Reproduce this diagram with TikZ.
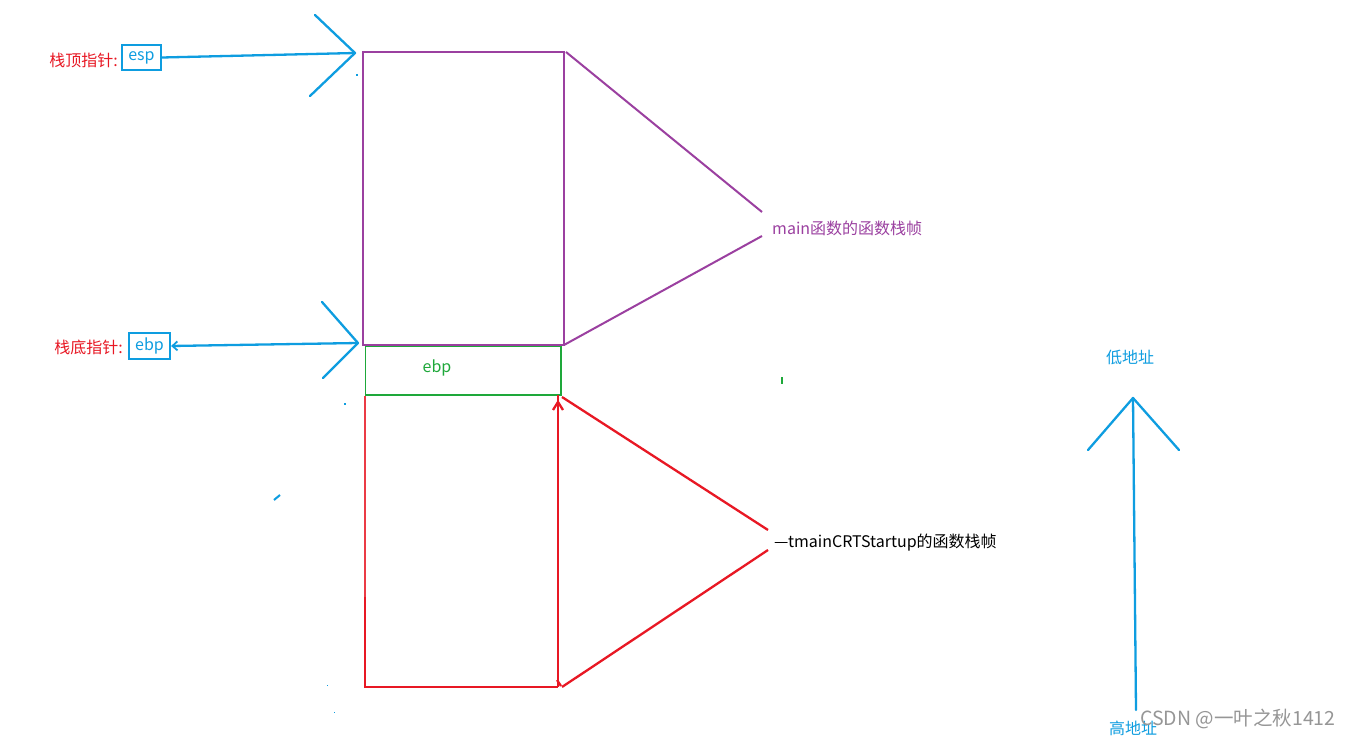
\documentclass[tikz,border=0pt]{standalone}
\usepackage{fontspec}
\setmainfont{Noto Sans CJK SC}
\usetikzlibrary{arrows.meta}
\definecolor{cblue}{RGB}{14,157,224}
\definecolor{cred}{RGB}{232,24,36}
\definecolor{cpurple}{RGB}{155,64,160}
\definecolor{cgreen}{RGB}{30,168,58}
\definecolor{cgray}{RGB}{150,150,150}
\tikzset{
  lbl/.style={inner sep=0pt, font=\fontsize{16}{19}\selectfont},
  bluebox/.style={draw=cblue, line width=2.2pt, inner sep=0pt, text=cblue, font=\fontsize{16}{19}\selectfont},
  blueline/.style={draw=cblue, line width=2.3pt, line cap=round, line join=round},
  purpleline/.style={draw=cpurple, line width=2pt},
  redline/.style={draw=cred, line width=2.3pt},
  greenline/.style={draw=cgreen, line width=2pt},
  speck/.style={draw=cblue, line width=2pt}
}
\begin{document}
\begin{tikzpicture}[x=1pt,y=-1pt]
\useasboundingbox[fill=white] (0,0) rectangle (1351,738);

% --- main frame (purple)
\coordinate (pTL) at (363,52);
\coordinate (pTR) at (564,52);
\coordinate (pBL) at (363,345);
\coordinate (pBR) at (564,345);
\draw[purpleline] (pTL) rectangle (pBR);
\node[lbl, text=cpurple, anchor=west] (mainlbl) at (772,228) {main函数的函数栈帧};
\coordinate (mA) at (762,212);
\coordinate (mB) at (762,236);
\draw[purpleline] (566,52) -- (mA);
\draw[purpleline] (pBR) -- (mB);

% --- ebp slot (green)
\draw[cgreen, line width=1pt] (365,395) -- (365,346) -- (561,346);
\draw[greenline] (561,346) -- (561,395) -- (365,395);
\node[lbl, text=cgreen] (ebpslot) at (437,368) {ebp};

% --- tmainCRTStartup frame (red)
\coordinate (rTL) at (365,396);
\coordinate (rBL) at (365,687);
\coordinate (rBR) at (558,687);
\coordinate (rTR) at (558,395);
\draw[cred!85, line width=1.2pt] (rTL) -- (365,597);
\draw[redline] (365,597) -- (rBL) -- (rBR);
\draw[redline] (rBR) -- (rTR);
\draw[redline] (558,402) -- (553,410);
\draw[redline] (558,402) -- (563,410);
\node[lbl, anchor=west] (crtlbl) at (774,543) {—tmainCRTStartup的函数栈帧};
\coordinate (cA) at (768,530);
\coordinate (cB) at (768,550);
\draw[redline] (562,397) -- (cA);
\draw[redline] (562,687) -- (cB);
\draw[redline] (557,680) -- (561,686);

% --- esp pointer
\node[lbl, text=cred, anchor=east] (esplbl) at (118,60) {栈顶指针:};
\node[bluebox, minimum width=39pt, minimum height=25pt] (esp) at (141.5,57.5) {esp};
\coordinate (espTip) at (355,53);
\draw[blueline] (esp.east) -- (espTip);
\draw[blueline] (315,15) -- (espTip) -- (310,96);

% --- ebp pointer
\node[lbl, text=cred, anchor=east] (ebplbl) at (123,347) {栈底指针:};
\node[bluebox, minimum width=41pt, minimum height=26pt] (ebp) at (149.5,346) {ebp};
\coordinate (ebpTip) at (358,343);
\draw[blueline, -{Straight Barb[length=5pt,width=9pt,line width=1.8pt]}] (ebpTip) -- (ebp.east);
\draw[blueline] (322,302) -- (ebpTip) -- (323,378);

% --- specks
\draw[speck] (357,74) -- (357,76);
\draw[speck] (345,403) -- (345,405);
\draw[speck] (274,500) -- (280,495);
\draw[cblue, line width=1pt] (327,685) -- (328,685);
\draw[cblue, line width=1pt] (334,712) -- (335,712);
\draw[cgreen, line width=2.5pt] (782,377) -- (782,384);

% --- address direction
\node[lbl, text=cblue] (low) at (1130,357) {低地址};
\node[lbl, text=cblue] (high) at (1133,728) {高地址};
\coordinate (aTip) at (1133,398);
\coordinate (aBase) at (1136,710);
\draw[blueline] (aBase) -- (aTip);
\draw[blueline] (1088,450) -- (aTip) -- (1179,450);

% --- watermark
\node[inner sep=0pt, text=cgray, font=\fontsize{19.5}{22}\selectfont] (wm) at (1238,719) {CSDN @一叶之秋1412};
\end{tikzpicture}
\end{document}
